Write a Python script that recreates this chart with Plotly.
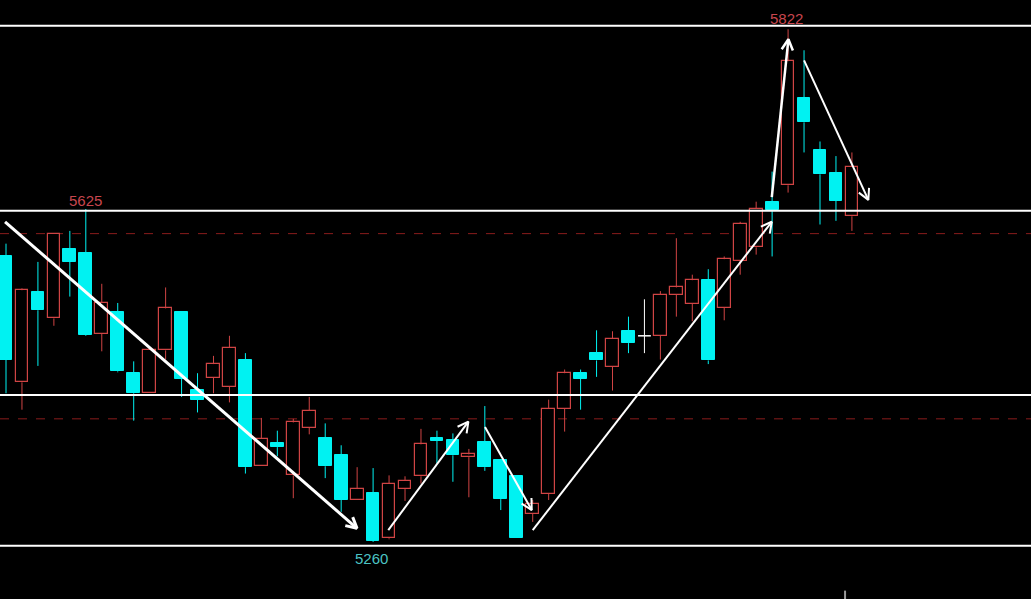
import math
import plotly.graph_objects as go

# ---- data ----
opens  = [5573, 5435, 5534, 5505, 5581, 5577, 5488, 5512, 5445, 5423,
          5470, 5512, 5427, 5440, 5430, 5460, 5343, 5369, 5333, 5385,
          5374, 5355, 5306, 5314, 5264, 5318, 5332, 5374, 5372, 5353,
          5370, 5350, 5332, 5291, 5313, 5406, 5445, 5467, 5452, 5491,
          5486, 5486, 5531, 5521, 5547, 5517, 5568, 5583, 5633, 5651,
          5747, 5690, 5665, 5617]
highs  = [5587, 5538, 5567, 5598, 5601, 5625, 5543, 5522, 5458, 5470,
          5539, 5512, 5445, 5464, 5486, 5467, 5396, 5382, 5395, 5419,
          5390, 5366, 5342, 5341, 5333, 5332, 5384, 5382, 5379, 5362,
          5409, 5350, 5332, 5306, 5416, 5449, 5449, 5492, 5491, 5507,
          5526, 5535, 5593, 5553, 5559, 5573, 5611, 5633, 5666, 5822,
          5799, 5699, 5683, 5687]
lows   = [5423, 5405, 5453, 5497, 5529, 5486, 5469, 5446, 5393, 5423,
          5460, 5419, 5402, 5423, 5413, 5335, 5343, 5354, 5308, 5378,
          5330, 5293, 5306, 5260, 5263, 5305, 5324, 5346, 5326, 5309,
          5338, 5295, 5264, 5282, 5306, 5381, 5405, 5441, 5426, 5467,
          5467, 5460, 5507, 5502, 5455, 5503, 5553, 5575, 5573, 5643,
          5687, 5608, 5612, 5601]
closes = [5460, 5536, 5514, 5598, 5567, 5487, 5522, 5447, 5423, 5470,
          5516, 5439, 5416, 5455, 5473, 5342, 5373, 5364, 5391, 5404,
          5343, 5306, 5318, 5261, 5324, 5327, 5367, 5371, 5355, 5356,
          5342, 5307, 5264, 5302, 5406, 5445, 5439, 5459, 5483, 5478,
          5486, 5531, 5539, 5547, 5459, 5570, 5609, 5625, 5624, 5787,
          5720, 5663, 5634, 5671]

solid_levels = [5826, 5623, 5421, 5256]
dashed_levels = [5598, 5395]

# arrows: start (x0, y0) -> end (x1, y1), x in candle index units
arrow_x0 = [-0.06, 23.95, 30.01, 33.00, 47.98, 50.00]
arrow_y0 = [5611, 5273, 5386, 5273, 5638, 5788]
arrow_x1 = [21.99, 28.97, 32.94, 47.98, 49.02, 54.03]
arrow_y1 = [5275, 5392, 5295, 5611, 5811, 5635]
arrow_w = [3, 2, 2, 2, 2.5, 2]

label_text = ["5822", "5625", "5260"]
label_x = [48.93, 4.95, 22.87]
label_y = [5834, 5634, 5242]
label_color = ["#c8464e", "#c8464e", "#4cc4c4"]

# ---- style ----
RED = "#d04444"
CYAN = "#00f2f2"
W, H = 1031, 599
XR = [-0.376, 64.22]
YR = [5197.5, 5854.1]
BODY = 0.8

def to_px(x, y):
    return ((x - XR[0]) / (XR[1] - XR[0]) * W, (YR[1] - y) / (YR[1] - YR[0]) * H)

def to_data(px, py):
    return (XR[0] + px / W * (XR[1] - XR[0]), YR[1] - py / H * (YR[1] - YR[0]))

fig = go.Figure()

idx = list(range(len(opens)))
groups = {"up": [], "down": [], "flat": []}
for i in idx:
    if closes[i] > opens[i]:
        groups["up"].append(i)
    elif closes[i] < opens[i]:
        groups["down"].append(i)
    else:
        groups["flat"].append(i)

def wick_xy(ids):
    xs, ys = [], []
    for i in ids:
        top = max(opens[i], closes[i])
        bot = min(opens[i], closes[i])
        xs += [i, i, None, i, i, None]
        ys += [highs[i], top, None, bot, lows[i], None]
    return xs, ys

for key, col in (("up", RED), ("down", CYAN), ("flat", "#ffffff")):
    ids = groups[key]
    if not ids:
        continue
    wx, wy = wick_xy(ids)
    fig.add_trace(go.Scatter(x=wx, y=wy, mode="lines",
                             line=dict(color=col, width=1), hoverinfo="skip"))

# bodies
up = groups["up"]
fig.add_trace(go.Bar(x=up, base=[opens[i] for i in up],
                     y=[closes[i] - opens[i] for i in up], width=BODY,
                     marker=dict(color="#000000", line=dict(color=RED, width=1.2))))
dn = groups["down"]
fig.add_trace(go.Bar(x=dn, base=[closes[i] for i in dn],
                     y=[opens[i] - closes[i] for i in dn], width=BODY,
                     marker=dict(color=CYAN, line=dict(color=CYAN, width=1))))
fx, fy = [], []
for i in groups["flat"]:
    fx += [i - BODY / 2, i + BODY / 2, None]
    fy += [opens[i], opens[i], None]
fig.add_trace(go.Scatter(x=fx, y=fy, mode="lines",
                         line=dict(color="#ffffff", width=1.5), hoverinfo="skip"))

# horizontal levels
for lv in dashed_levels:
    fig.add_shape(type="line", xref="paper", x0=0, x1=1, yref="y", y0=lv, y1=lv,
                  line=dict(color="#8a1c1c", width=1, dash="dash"), layer="below")
for lv in solid_levels:
    fig.add_shape(type="line", xref="paper", x0=0, x1=1, yref="y", y0=lv, y1=lv,
                  line=dict(color="#ffffff", width=2), layer="above")

# arrows (line + open chevron head)
for x0, y0, x1, y1, w in zip(arrow_x0, arrow_y0, arrow_x1, arrow_y1, arrow_w):
    p0 = to_px(x0, y0)
    p1 = to_px(x1, y1)
    dx, dy = p1[0] - p0[0], p1[1] - p0[1]
    n = math.hypot(dx, dy)
    ux, uy = dx / n, dy / n
    L, th = 12, math.radians(28)
    wings = []
    for s in (1, -1):
        c, sn = math.cos(s * th), math.sin(s * th)
        rx, ry = ux * c - uy * sn, ux * sn + uy * c
        wings.append(to_data(p1[0] - L * rx, p1[1] - L * ry))
    xs = [x0, x1, None, wings[0][0], x1, wings[1][0]]
    ys = [y0, y1, None, wings[0][1], y1, wings[1][1]]
    fig.add_trace(go.Scatter(x=xs, y=ys, mode="lines",
                             line=dict(color="#ffffff", width=w), hoverinfo="skip"))

# small grey tick at bottom
fig.add_shape(type="line", xref="x", yref="paper", x0=52.57, x1=52.57, y0=0, y1=0.014,
              line=dict(color="#9a9a9a", width=2))

for t, x, y, c in zip(label_text, label_x, label_y, label_color):
    fig.add_annotation(x=x, y=y, text=t, showarrow=False,
                       font=dict(family="Liberation Sans, Arial", size=15, color=c))

fig.update_layout(
    width=W, height=H, margin=dict(l=0, r=0, t=0, b=0),
    paper_bgcolor="#000000", plot_bgcolor="#000000",
    showlegend=False, barmode="overlay", bargap=0,
    xaxis=dict(range=XR, visible=False, fixedrange=True),
    yaxis=dict(range=YR, visible=False, fixedrange=True),
    hovermode=False,
)

fig.write_html(
    "out.html",
    config={"displayModeBar": False},
    post_script="document.body.style.margin='0';document.body.style.background='#000';"
                "document.documentElement.style.overflow='hidden';",
)
